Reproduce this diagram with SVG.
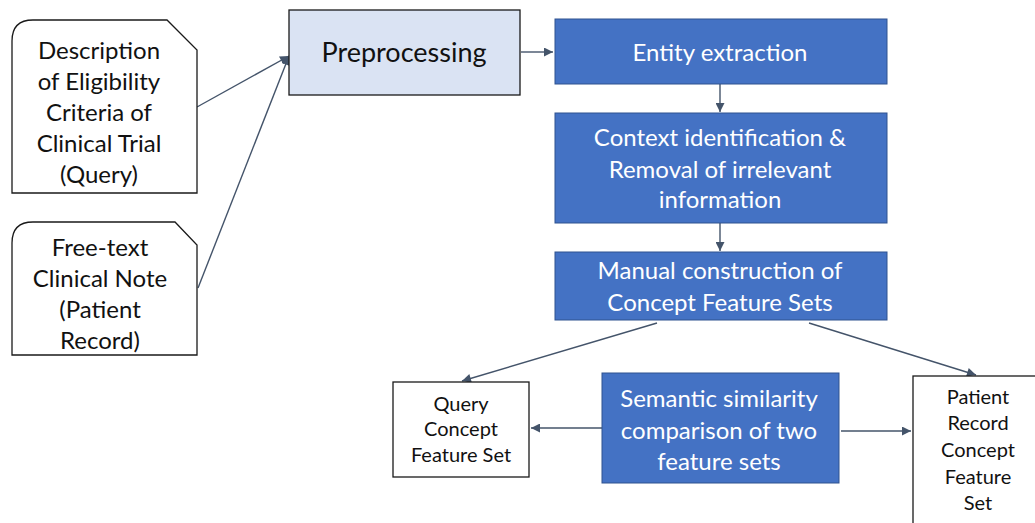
<svg xmlns="http://www.w3.org/2000/svg" width="1035" height="523" viewBox="0 0 1035 523">
  <defs>
    <marker id="arrow" viewBox="0 0 10 10" refX="10" refY="5" markerWidth="10" markerHeight="9" markerUnits="userSpaceOnUse" orient="auto">
      <path d="M0,0 L10,5 L0,10 Z" fill="#44546A"/>
    </marker>
    <style>
      .doc { fill: #ffffff; stroke: #1a1a1a; stroke-width: 1.3; }
      .pre { fill: #DAE3F3; stroke: #1a1a1a; stroke-width: 1.3; }
      .step { fill: #4472C4; stroke: #2F528F; stroke-width: 1; }
      .out { fill: #ffffff; stroke: #1a1a1a; stroke-width: 1.3; }
      .edge { fill: none; stroke: #44546A; stroke-width: 1.4; marker-end: url(#arrow); }
      text { font-family: Lato, "Open Sans", "Liberation Sans", sans-serif; text-anchor: middle; }
      .dark { fill: #111111; font-size: 24px; }
      .light { fill: #ffffff; font-size: 24px; }
      .small { fill: #111111; font-size: 20px; }
    </style>
  </defs>
  <rect width="1035" height="523" fill="#ffffff"/>

  <g id="connectors">
    <line class="edge" x1="197" y1="107" x2="289" y2="56"/>
    <line class="edge" x1="198" y1="288" x2="289" y2="56"/>
    <line class="edge" x1="521" y1="52" x2="553" y2="52"/>
    <line class="edge" x1="720" y1="84" x2="720" y2="112"/>
    <line class="edge" x1="720" y1="223" x2="720" y2="251"/>
    <line class="edge" x1="657" y1="323" x2="462" y2="381"/>
    <line class="edge" x1="809" y1="323" x2="976" y2="375"/>
    <line class="edge" x1="602" y1="428" x2="531" y2="428"/>
    <line class="edge" x1="841" y1="431" x2="911" y2="431"/>
  </g>

  <g id="eligibility-criteria">
    <path class="doc" d="M12,193 L12,41 Q12,20 33,20 L167,20 L197,50 L197,193 Z"/>
    <text class="dark" x="99" y="59">Description</text>
    <text class="dark" x="99" y="90">of Eligibility</text>
    <text class="dark" x="99" y="121">Criteria of</text>
    <text class="dark" x="99" y="152">Clinical Trial</text>
    <text class="dark" x="99" y="183">(Query)</text>
  </g>

  <g id="clinical-note">
    <path class="doc" d="M12,355 L12,243 Q12,222 33,222 L175,222 L197,245 L197,355 Z"/>
    <text class="dark" x="100" y="256">Free-text</text>
    <text class="dark" x="100" y="287">Clinical Note</text>
    <text class="dark" x="100" y="318">(Patient</text>
    <text class="dark" x="100" y="349">Record)</text>
  </g>

  <g id="preprocessing">
    <rect class="pre" x="289" y="10" width="231" height="85"/>
    <text class="dark" x="404" y="62" style="font-size:27px">Preprocessing</text>
  </g>

  <g id="entity-extraction">
    <rect class="step" x="555" y="19" width="332" height="65"/>
    <text class="light" x="720" y="61">Entity extraction</text>
  </g>

  <g id="context-identification">
    <rect class="step" x="555" y="113" width="332" height="110"/>
    <text class="light" x="720" y="146">Context identification &amp;</text>
    <text class="light" x="720" y="178">Removal of irrelevant</text>
    <text class="light" x="720" y="208">information</text>
  </g>

  <g id="manual-construction">
    <rect class="step" x="555" y="252" width="332" height="68"/>
    <text class="light" x="720" y="279">Manual construction of</text>
    <text class="light" x="720" y="311">Concept Feature Sets</text>
  </g>

  <g id="semantic-similarity">
    <rect class="step" x="602" y="373" width="237" height="110"/>
    <text class="light" x="719" y="407">Semantic similarity</text>
    <text class="light" x="719" y="439">comparison of two</text>
    <text class="light" x="719" y="470">feature sets</text>
  </g>

  <g id="query-features">
    <rect class="out" x="393" y="382" width="136" height="95"/>
    <text class="small" x="461" y="411">Query</text>
    <text class="small" x="461" y="436">Concept</text>
    <text class="small" x="461" y="462">Feature Set</text>
  </g>

  <g id="patient-features">
    <rect class="out" x="913" y="376" width="130" height="160"/>
    <text class="small" x="978" y="404">Patient</text>
    <text class="small" x="978" y="430">Record</text>
    <text class="small" x="978" y="457">Concept</text>
    <text class="small" x="978" y="484">Feature</text>
    <text class="small" x="978" y="510">Set</text>
  </g>
</svg>
